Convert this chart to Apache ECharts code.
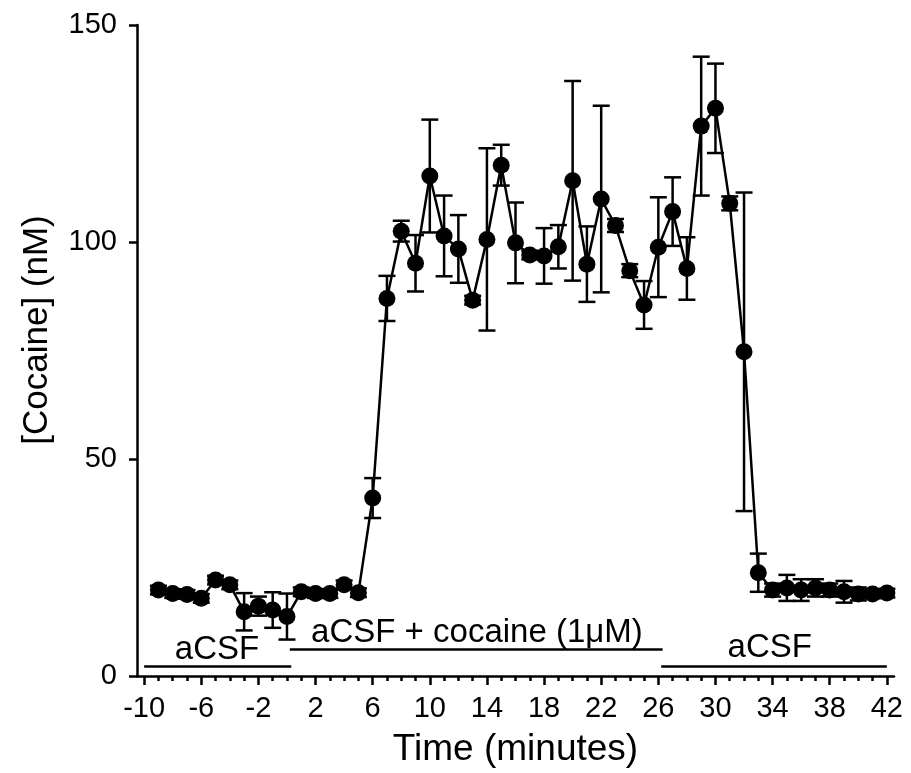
<!DOCTYPE html>
<html><head><meta charset="utf-8">
<script src="https://cdn.jsdelivr.net/npm/echarts@6/dist/echarts.min.js"></script>
<style>html,body{margin:0;padding:0;background:#fff}#c{width:911px;height:773px}</style>
</head><body><div id="c"></div>
<script>
const times = [-9,-8,-7,-6,-5,-4,-3,-2,-1,0,1,2,3,4,5,6,7,8,9,10,11,12,13,14,15,16,17,18,19,20,21,22,23,24,25,26,27,28,29,30,31,32,33,34,35,36,37,38,39,40,41,42];
const cocaine = [19.8,19.0,18.8,17.9,22.1,21.0,14.8,16.1,15.2,13.7,19.4,19.0,19.0,21.0,19.2,41.0,87.0,102.5,95.1,115.2,101.4,98.4,86.6,100.6,117.7,99.8,97.0,96.8,98.9,114.1,94.9,109.9,103.8,93.4,85.5,98.8,107.0,93.9,126.7,130.8,108.9,74.7,23.8,19.8,20.3,19.8,20.3,19.8,19.4,18.9,18.9,19.1];
const sem = [1,1,1,1,1,1,4.3,2.2,4.1,5.3,1,1,1,1,1,4.6,5.2,2.4,6.5,13,9.3,7.8,1,21,4.7,9.3,1,6.4,5,23,8.7,21.5,1.5,1.5,5.5,11.5,7.9,7.2,16,10.3,1.6,36.7,4.4,1.5,3,2.5,2,1.5,2.5,1.5,1,1];
const xTickLabels = [-10,-6,-2,2,6,10,14,18,22,26,30,34,38,42];
const xMinorTicks = [];
for (let t = -10; t <= 42; t++) xMinorTicks.push(t);
const yTicks = [0,50,100,150];
// condition bars
const condLabels = ['aCSF','aCSF + cocaine (1μM)','aCSF'];
const condStart = [-10, 0.2, 26.2];
const condEnd = [0.3, 26.3, 42];
const condLevel = [2.3, 6.2, 2.2];
const condTextT = [-4.9, 13.3, 33.8];
const condTextLevel = [6.0, 9.9, 6.4];

const FONT = "'Liberation Sans', Arial, sans-serif";
const chart = echarts.init(document.getElementById('c'));
const errData = times.map((t,i)=>[t, cocaine[i]-sem[i], cocaine[i]+sem[i]]);
const lineData = times.map((t,i)=>[t, cocaine[i]]);
const markLines = condStart.map((s,i)=>[{coord:[s, condLevel[i]]},{coord:[condEnd[i], condLevel[i]]}]);

chart.setOption({
  animation:false,
  backgroundColor:'#fff',
  grid:{left:137,right:17,top:25,bottom:97,containLabel:false},
  xAxis:[{
    type:'value',min:-10.5,max:42.5,position:'bottom',
    axisLine:{show:true,onZero:false,lineStyle:{color:'#000',width:2.5}},
    axisTick:{show:true,customValues:xTickLabels,length:9,lineStyle:{color:'#000',width:2.5}},
    axisLabel:{show:true,customValues:xTickLabels,color:'#000',fontSize:29,fontFamily:FONT,margin:18},
    splitLine:{show:false},
    name:'Time (minutes)',nameLocation:'middle',nameGap:55,
    nameTextStyle:{color:'#000',fontSize:37,fontFamily:FONT}
  },{
    type:'value',min:-10.5,max:42.5,position:'bottom',
    axisLine:{show:false,onZero:false},
    axisTick:{show:true,customValues:xMinorTicks,length:5,lineStyle:{color:'#000',width:2.5}},
    axisLabel:{show:false},splitLine:{show:false}
  }],
  yAxis:{
    type:'value',min:0,max:150,interval:50,
    axisLine:{show:true,onZero:false,lineStyle:{color:'#000',width:2.5}},
    axisTick:{show:true,length:8,lineStyle:{color:'#000',width:2.5}},
    axisLabel:{color:'#000',fontSize:29,fontFamily:FONT,margin:20},
    splitLine:{show:false}
  },
  series:[{
    type:'custom',xAxisIndex:0,z:2,
    data:errData,
    encode:{x:0,y:[1,2]},
    renderItem:function(params,api){
      const x=api.value(0);
      const lo=api.coord([x,api.value(1)]);
      const hi=api.coord([x,api.value(2)]);
      const w=8.5;
      const st={stroke:'#000',lineWidth:2.5};
      return {type:'group',children:[
        {type:'line',shape:{x1:lo[0],y1:lo[1],x2:hi[0],y2:hi[1]},style:st},
        {type:'line',shape:{x1:lo[0]-w,y1:lo[1],x2:lo[0]+w,y2:lo[1]},style:st},
        {type:'line',shape:{x1:hi[0]-w,y1:hi[1],x2:hi[0]+w,y2:hi[1]},style:st}
      ]};
    }
  },{
    type:'line',xAxisIndex:0,z:3,
    data:lineData,
    symbol:'circle',symbolSize:17,
    lineStyle:{color:'#000',width:2.5},
    itemStyle:{color:'#000'},
    markLine:{silent:true,symbol:['none','none'],label:{show:false},
      lineStyle:{color:'#000',width:2.5,type:'solid'},data:markLines}
  }]
});

const texts = condLabels.map((s,i)=>{
  const p = chart.convertToPixel({xAxisIndex:0,yAxisIndex:0},[condTextT[i],condTextLevel[i]]);
  return {type:'text',x:p[0],y:p[1],style:{text:s,fill:'#000',font:'33px '+FONT,textAlign:'center',textVerticalAlign:'middle'}};
});
texts.push({type:'text',x:37,y:330,rotation:Math.PI/2,style:{text:'[Cocaine] (nM)',fill:'#000',font:'35px '+FONT,textAlign:'center',textVerticalAlign:'middle'}});
chart.setOption({graphic:texts});
</script></body></html>
